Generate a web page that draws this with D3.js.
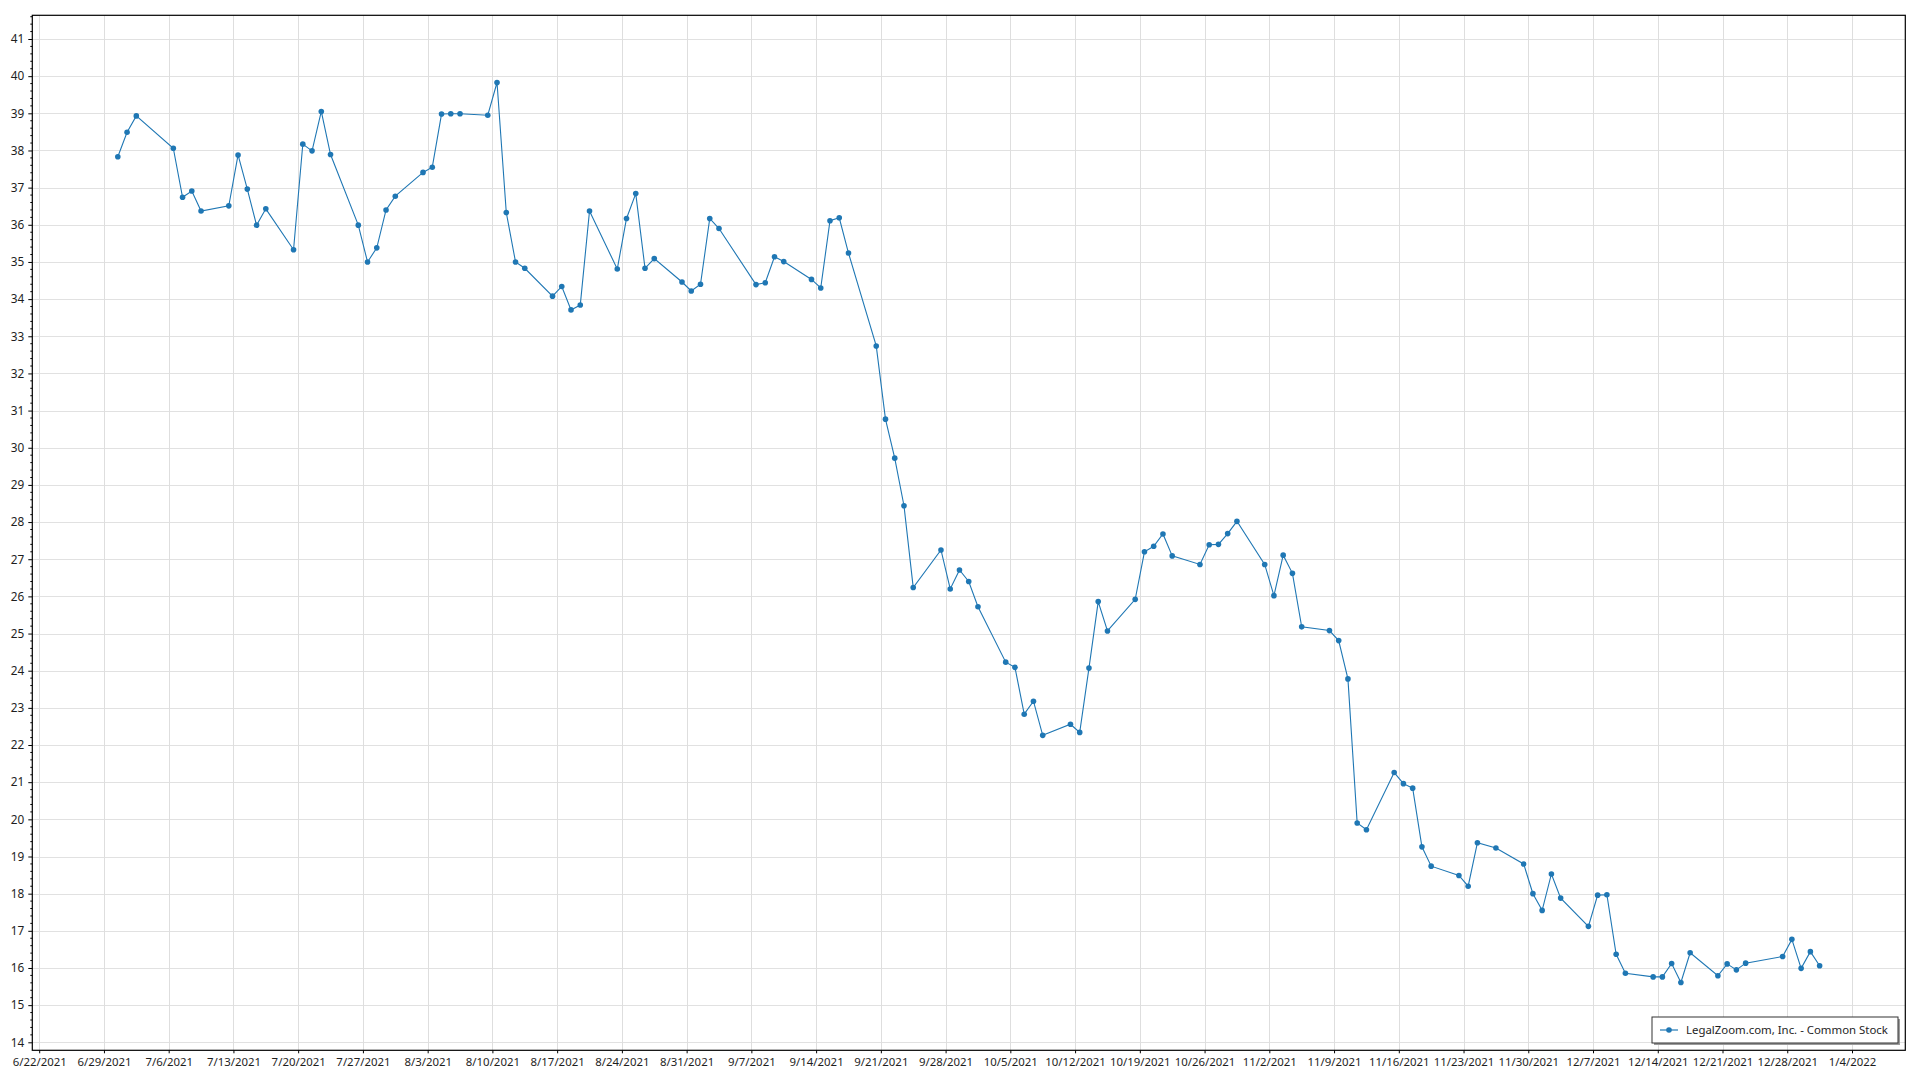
<!DOCTYPE html>
<html>
<head>
<meta charset="utf-8">
<script src="https://cdn.jsdelivr.net/npm/d3@7"></script>
<style>
  html, body { margin: 0; padding: 0; background: #fff; }
  svg { display: block; }
  text { font-family: "Segoe UI", "Noto Sans", "Open Sans", sans-serif; }
</style>
</head>
<body>
<svg id="chart" width="1920" height="1080"></svg>
<script>
// ---------------- data ----------------
const seriesName = "LegalZoom.com, Inc. - Common Stock";
const dates = [
  "2021-06-30","2021-07-01","2021-07-02","2021-07-06","2021-07-07","2021-07-08","2021-07-09",
  "2021-07-12","2021-07-13","2021-07-14","2021-07-15","2021-07-16",
  "2021-07-19","2021-07-20","2021-07-21","2021-07-22","2021-07-23",
  "2021-07-26","2021-07-27","2021-07-28","2021-07-29","2021-07-30",
  "2021-08-02","2021-08-03","2021-08-04","2021-08-05","2021-08-06",
  "2021-08-09","2021-08-10","2021-08-11","2021-08-12","2021-08-13",
  "2021-08-16","2021-08-17","2021-08-18","2021-08-19","2021-08-20",
  "2021-08-23","2021-08-24","2021-08-25","2021-08-26","2021-08-27",
  "2021-08-30","2021-08-31","2021-09-01","2021-09-02","2021-09-03",
  "2021-09-07","2021-09-08","2021-09-09","2021-09-10",
  "2021-09-13","2021-09-14","2021-09-15","2021-09-16","2021-09-17",
  "2021-09-20","2021-09-21","2021-09-22","2021-09-23","2021-09-24",
  "2021-09-27","2021-09-28","2021-09-29","2021-09-30","2021-10-01",
  "2021-10-04","2021-10-05","2021-10-06","2021-10-07","2021-10-08",
  "2021-10-11","2021-10-12","2021-10-13","2021-10-14","2021-10-15",
  "2021-10-18","2021-10-19","2021-10-20","2021-10-21","2021-10-22",
  "2021-10-25","2021-10-26","2021-10-27","2021-10-28","2021-10-29",
  "2021-11-01","2021-11-02","2021-11-03","2021-11-04","2021-11-05",
  "2021-11-08","2021-11-09","2021-11-10","2021-11-11","2021-11-12",
  "2021-11-15","2021-11-16","2021-11-17","2021-11-18","2021-11-19",
  "2021-11-22","2021-11-23","2021-11-24","2021-11-26",
  "2021-11-29","2021-11-30","2021-12-01","2021-12-02","2021-12-03",
  "2021-12-06","2021-12-07","2021-12-08","2021-12-09","2021-12-10",
  "2021-12-13","2021-12-14","2021-12-15","2021-12-16","2021-12-17",
  "2021-12-20","2021-12-21","2021-12-22","2021-12-23",
  "2021-12-27","2021-12-28","2021-12-29","2021-12-30","2021-12-31"
];
const prices = [
  37.83,38.49,38.93,38.06,36.74,36.91,36.37,
  36.51,37.88,36.96,35.99,36.43,
  35.33,38.17,37.99,39.05,37.89,
  35.99,35.00,35.38,36.40,36.77,
  37.41,37.55,38.98,38.99,38.99,
  38.95,39.83,36.33,35.00,34.83,
  34.08,34.34,33.71,33.84,36.37,
  34.81,36.17,36.84,34.83,35.09,
  34.46,34.22,34.40,36.17,35.90,
  34.39,34.44,35.14,35.01,
  34.53,34.30,36.11,36.19,35.24,
  32.74,30.77,29.72,28.44,26.24,
  27.25,26.20,26.71,26.40,25.72,
  24.23,24.09,22.83,23.18,22.26,
  22.56,22.34,24.07,25.86,25.07,
  25.92,27.20,27.35,27.68,27.09,
  26.86,27.39,27.40,27.69,28.02,
  26.86,26.02,27.11,26.62,25.18,
  25.08,24.81,23.78,19.90,19.72,
  21.26,20.96,20.84,19.26,18.74,
  18.49,18.20,19.37,19.23,
  18.80,18.00,17.55,18.53,17.88,
  17.12,17.96,17.97,16.37,15.86,
  15.76,15.76,16.12,15.61,16.41,
  15.79,16.11,15.95,16.13,
  16.31,16.77,15.99,16.44,16.06
];
const xTickLabels = [
  "6/22/2021","6/29/2021","7/6/2021","7/13/2021","7/20/2021","7/27/2021","8/3/2021",
  "8/10/2021","8/17/2021","8/24/2021","8/31/2021","9/7/2021","9/14/2021","9/21/2021",
  "9/28/2021","10/5/2021","10/12/2021","10/19/2021","10/26/2021","11/2/2021","11/9/2021",
  "11/16/2021","11/23/2021","11/30/2021","12/7/2021","12/14/2021","12/21/2021","12/28/2021",
  "1/4/2022"
];
const yTicks = [14,15,16,17,18,19,20,21,22,23,24,25,26,27,28,29,30,31,32,33,34,35,36,37,38,39,40,41];

// ---------------- layout ----------------
const plot = { left: 32.3, top: 15.3, right: 1905.3, bottom: 1050.3 };
const color = "#1f77b4";
const fontSize = 11.4;
const textColor = "#1e1e1e";

const parseLabel = d3.utcParse("%-m/%-d/%Y");
const parseDate = d3.utcParse("%Y-%m-%d");
const tickDates = xTickLabels.map(parseLabel);

const data = dates.map((d, i) => ({ date: d3.utcHour.offset(parseDate(d), 12), value: prices[i] }));

const x = d3.scaleUtc()
  .domain([tickDates[0], tickDates[tickDates.length - 1]])
  .range([39.2, 1852]);
const y = d3.scaleLinear()
  .domain([14, 41])
  .range([1042.3, 39]);

const svg = d3.select("#chart");

// clip
svg.append("defs").append("clipPath").attr("id", "clip")
  .append("rect")
  .attr("x", plot.left).attr("y", plot.top)
  .attr("width", plot.right - plot.left).attr("height", plot.bottom - plot.top);

// grid
const grid = svg.append("g").attr("shape-rendering", "crispEdges");
grid.selectAll("line.h").data(yTicks).join("line")
  .attr("x1", plot.left).attr("x2", plot.right)
  .attr("y1", d => Math.round(y(d)) + 0.5).attr("y2", d => Math.round(y(d)) + 0.5)
  .attr("stroke", "#e1e1e1").attr("stroke-width", 1);
grid.selectAll("line.v").data(tickDates).join("line")
  .attr("y1", plot.top).attr("y2", plot.bottom)
  .attr("x1", d => Math.round(x(d)) + 0.5).attr("x2", d => Math.round(x(d)) + 0.5)
  .attr("stroke", "#dedede").attr("stroke-width", 1);

// y axis
const yAxis = d3.axisLeft(y)
  .tickValues(yTicks)
  .tickFormat(d3.format("d"))
  .tickSize(4)
  .tickPadding(4);
const yG = svg.append("g").attr("transform", `translate(${plot.left},0)`).call(yAxis);
yG.select(".domain").remove();
yG.selectAll("text").attr("font-size", fontSize + 0.4).attr("fill", textColor)
  .attr("font-family", '"Segoe UI", "Noto Sans", "Open Sans", sans-serif');
yG.selectAll("line").attr("stroke", "#000");

// y minor ticks
const minorY = d3.range(14, 41.61, 0.2).filter(v => Math.abs(v - Math.round(v)) > 0.01);
svg.append("g").selectAll("line").data(minorY).join("line")
  .attr("x1", plot.left - 2).attr("x2", plot.left)
  .attr("y1", d => y(d)).attr("y2", d => y(d))
  .attr("stroke", "#000").attr("stroke-width", 1);

// x axis
const xAxis = d3.axisBottom(x)
  .tickValues(tickDates)
  .tickFormat(d3.utcFormat("%-m/%-d/%Y"))
  .tickSize(3)
  .tickPadding(5);
const xG = svg.append("g").attr("transform", `translate(0,${plot.bottom})`).call(xAxis);
xG.select(".domain").remove();
xG.selectAll("text").attr("font-size", fontSize).attr("fill", textColor)
  .attr("font-family", '"Segoe UI", "Noto Sans", "Open Sans", sans-serif');
xG.selectAll("line").attr("stroke", "#000");

// frame
svg.append("rect")
  .attr("x", plot.left).attr("y", plot.top)
  .attr("width", plot.right - plot.left).attr("height", plot.bottom - plot.top)
  .attr("fill", "none").attr("stroke", "#000").attr("stroke-width", 1.2);

// series
const line = d3.line().x(d => x(d.date)).y(d => y(d.value));
const series = svg.append("g").attr("clip-path", "url(#clip)");
series.append("path").datum(data)
  .attr("d", line).attr("fill", "none")
  .attr("stroke", color).attr("stroke-width", 1.1);
series.selectAll("circle").data(data).join("circle")
  .attr("cx", d => x(d.date)).attr("cy", d => y(d.value))
  .attr("r", 2.8).attr("fill", color);

// legend
const lg = { x: 1652, y: 1017, w: 246, h: 26 };
const legend = svg.append("g");
legend.append("rect")
  .attr("x", lg.x + 2).attr("y", lg.y + 2).attr("width", lg.w).attr("height", lg.h)
  .attr("fill", "#9a9a9a");
legend.append("rect")
  .attr("x", lg.x).attr("y", lg.y).attr("width", lg.w).attr("height", lg.h)
  .attr("fill", "#fff").attr("stroke", "#333").attr("stroke-width", 1);
const cy = lg.y + lg.h / 2;
legend.append("line")
  .attr("x1", lg.x + 8).attr("x2", lg.x + 26).attr("y1", cy).attr("y2", cy)
  .attr("stroke", color).attr("stroke-width", 1.2);
legend.append("circle").attr("cx", lg.x + 17).attr("cy", cy).attr("r", 2.8).attr("fill", color);
legend.append("text")
  .attr("x", lg.x + 34).attr("y", cy).attr("dy", "0.35em")
  .attr("font-size", fontSize).attr("fill", textColor)
  .text(seriesName);
</script>
</body>
</html>
